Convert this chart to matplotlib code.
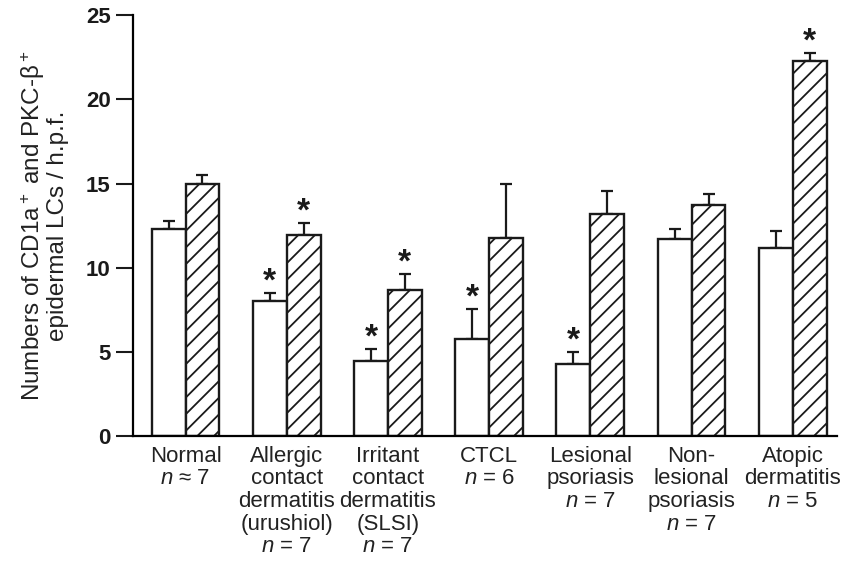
import numpy as np
import matplotlib
matplotlib.use("Agg")
from matplotlib import pyplot as plt

plt.rcParams['font.family'] = ['Liberation Sans', 'DejaVu Sans']
plt.rcParams['mathtext.fontset'] = 'custom'
plt.rcParams['mathtext.rm'] = 'Liberation Sans'
plt.rcParams['mathtext.it'] = 'Liberation Sans:italic'
plt.rcParams['mathtext.bf'] = 'Liberation Sans:bold'
plt.rcParams['hatch.linewidth'] = 1.3

# data
groups = ["Normal\n$n$ ≈ 7",
          "Allergic\ncontact\ndermatitis\n(urushiol)\n$n$ = 7",
          "Irritant\ncontact\ndermatitis\n(SLSI)\n$n$ = 7",
          "CTCL\n$n$ = 6",
          "Lesional\npsoriasis\n$n$ = 7",
          "Non-\nlesional\npsoriasis\n$n$ = 7",
          "Atopic\ndermatitis\n$n$ = 5"]
cd1a = [12.3, 8.0, 4.45, 5.75, 4.3, 11.7, 11.2]
cd1a_err = [0.5, 0.5, 0.7, 1.8, 0.7, 0.6, 1.0]
pkc = [15.0, 11.95, 8.7, 11.75, 13.2, 13.75, 22.25]
pkc_err = [0.5, 0.7, 0.95, 3.2, 1.35, 0.6, 0.5]
cd1a_sig = [False, True, True, True, True, False, False]
pkc_sig = [False, True, True, False, False, False, True]

x = np.arange(len(groups))
w = 0.335

fig = plt.figure(figsize=(8.41, 5.62), dpi=100)
ax = fig.add_axes([0.158, 0.224, 0.837, 0.749])

ax.bar(x - w/2, cd1a, w, color='white', edgecolor='#1a1a1a', linewidth=1.7, zorder=2)
ax.bar(x + w/2, pkc, w, color='white', edgecolor='#1a1a1a', linewidth=1.7,
       hatch='//', zorder=2)
ax.errorbar(x - w/2, cd1a, yerr=[np.zeros(len(x)), cd1a_err], fmt='none',
            ecolor='#1a1a1a', elinewidth=1.6, capsize=4.5, capthick=1.6, zorder=1)
ax.errorbar(x + w/2, pkc, yerr=[np.zeros(len(x)), pkc_err], fmt='none',
            ecolor='#1a1a1a', elinewidth=1.6, capsize=4.5, capthick=1.6, zorder=1)

# significance stars
for i in range(len(x)):
    if cd1a_sig[i]:
        ax.text(x[i] - w/2, cd1a[i] + cd1a_err[i] + 0.65, "*", ha='center', va='center',
                fontsize=24, fontweight='bold', color='#1a1a1a')
    if pkc_sig[i]:
        ax.text(x[i] + w/2, pkc[i] + pkc_err[i] + 0.65, "*", ha='center', va='center',
                fontsize=24, fontweight='bold', color='#1a1a1a')

ax.set_xlim(-0.52, 6.435)
ax.set_ylim(0, 25)
ax.set_yticks([0, 5, 10, 15, 20, 25])
ax.set_xticks(x)
ax.set_xticklabels(groups, fontsize=16, linespacing=1.1, color='#222222')
ax.tick_params(axis='x', length=0, pad=7)
ax.tick_params(axis='y', direction='out', length=12, width=1.5, pad=4,
               labelsize=16, colors='#1a1a1a')
for lab in ax.get_yticklabels():
    lab.set_fontweight('bold')

ax.spines['top'].set_visible(False)
ax.spines['right'].set_visible(False)
ax.spines['left'].set_linewidth(1.6)
ax.spines['bottom'].set_linewidth(1.6)

ax.set_ylabel("Numbers of CD1a$^+$ and PKC-β$^+$\nepidermal LCs / h.p.f.",
              fontsize=17.5, color='#222222', linespacing=1.0, labelpad=12)

fig.savefig("out.png", dpi=100)
